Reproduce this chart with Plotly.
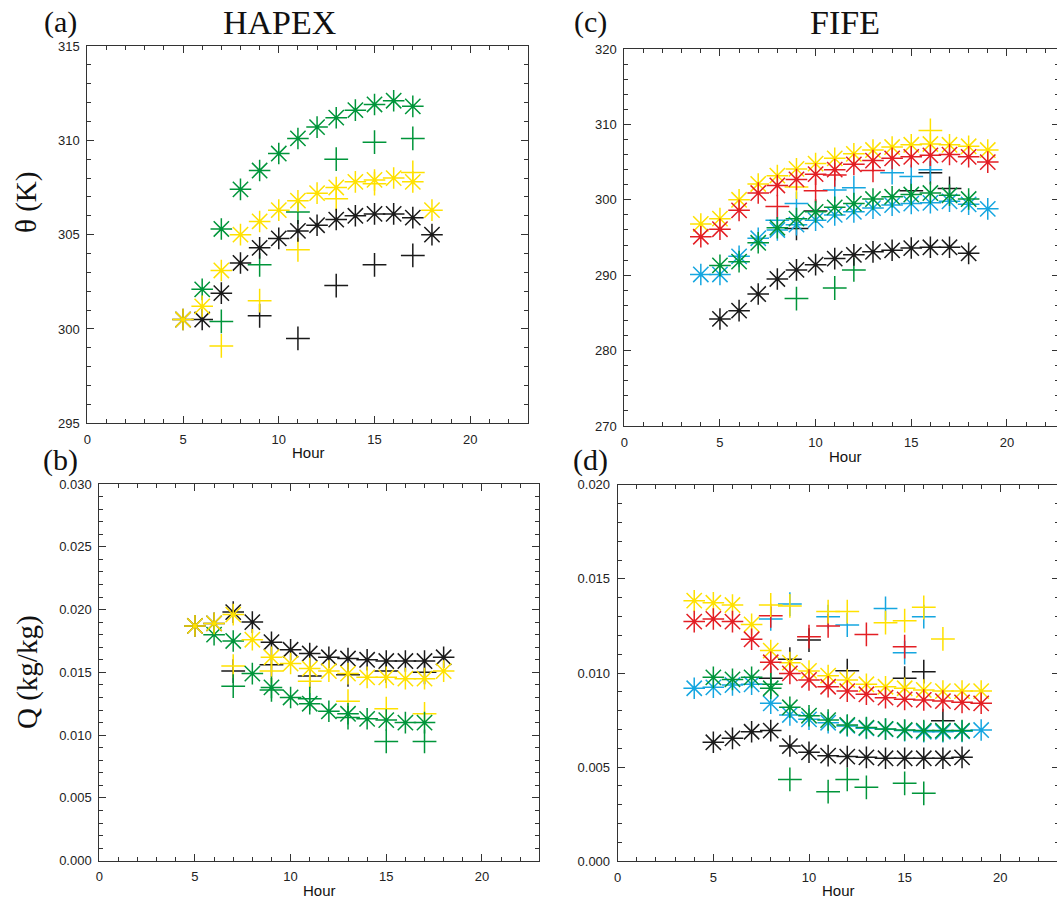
import plotly.graph_objects as go

# ---------------- colours ----------------
BLACK = "#1a1a1a"
GREEN = "#00953a"
YELLOW = "#ffe100"
RED = "#e31e24"
CYAN = "#15a6e0"

# ---------------- (a) HAPEX theta ----------------
a_hours_bk = [5, 6, 7, 8, 9, 10, 11, 12, 13, 14, 15, 16, 17, 18]
a_th_bk = [300.5, 300.5, 301.9, 303.5, 304.3, 304.8, 305.2, 305.5, 305.8, 306.0, 306.1, 306.1, 305.9, 305.0]
a_hours_ye = [5, 6, 7, 8, 9, 10, 11, 12, 13, 14, 15, 16, 17, 18]
a_th_ye = [300.5, 301.2, 303.1, 305.0, 305.7, 306.3, 306.8, 307.2, 307.5, 307.8, 307.9, 308.0, 307.8, 306.3]
a_hours_gr = [6, 7, 8, 9, 10, 11, 12, 13, 14, 15, 16, 17]
a_th_gr = [302.1, 305.3, 307.4, 308.4, 309.3, 310.1, 310.7, 311.2, 311.6, 311.9, 312.1, 311.8]
a_plus_hours = [7, 9, 11, 13, 15, 17]
a_plus_bk_hours = [9, 11, 13, 15, 17]
a_plus_bk = [300.7, 299.5, 302.3, 303.4, 303.9]
a_plus_ye = [299.1, 301.5, 304.2, 306.9, 307.7, 308.3]
a_plus_gr = [300.4, 303.4, 306.2, 309.0, 309.9, 310.1]

# ---------------- (b) HAPEX Q ----------------
b_hours_bk = [5, 6, 7, 8, 9, 10, 11, 12, 13, 14, 15, 16, 17, 18]
b_q_bk = [0.0187, 0.0189, 0.0198, 0.0190, 0.0174, 0.0168, 0.0165, 0.0162, 0.0161, 0.0160, 0.0159, 0.0159, 0.0159, 0.0162]
b_hours_ye = [5, 6, 7, 8, 9, 10, 11, 12, 13, 14, 15, 16, 17, 18]
b_q_ye = [0.0187, 0.0189, 0.0196, 0.0176, 0.0162, 0.0157, 0.0153, 0.0151, 0.0149, 0.0146, 0.0146, 0.0145, 0.0145, 0.0151]
b_hours_gr = [6, 7, 8, 9, 10, 11, 12, 13, 14, 15, 16, 17]
b_q_gr = [0.0180, 0.0175, 0.0149, 0.0138, 0.0130, 0.0125, 0.0119, 0.0117, 0.0113, 0.0112, 0.0110, 0.0110]
b_plus_hours = [7, 9, 11, 13, 15, 17]
b_plus_bk = [0.0151, 0.0156, 0.0147, 0.0148, 0.0151, 0.0150]
b_plus_ye = [0.0155, 0.0151, 0.0143, 0.0127, 0.0121, 0.0117]
b_plus_gr = [0.0139, 0.0136, 0.0129, 0.0114, 0.0095, 0.0095]

# ---------------- (c) FIFE theta ----------------
c_hours_4 = [4, 5, 6, 7, 8, 9, 10, 11, 12, 13, 14, 15, 16, 17, 18, 19]
c_th_ye = [296.8, 297.5, 300.0, 302.1, 303.2, 304.1, 304.8, 305.5, 306.1, 306.6, 307.0, 307.3, 307.4, 307.3, 307.1, 306.6]
c_th_rd = [295.1, 296.1, 298.6, 300.9, 301.9, 302.7, 303.4, 304.0, 304.7, 305.2, 305.5, 305.7, 305.9, 306.0, 305.7, 305.0]
c_th_cy = [290.1, 290.1, 292.5, 294.9, 296.0, 296.7, 297.3, 298.0, 298.4, 298.9, 299.3, 299.5, 299.6, 299.8, 299.4, 298.8]
c_hours_5 = [5, 6, 7, 8, 9, 10, 11, 12, 13, 14, 15, 16, 17, 18]
c_th_gr = [291.3, 291.8, 294.3, 296.3, 297.5, 298.4, 299.0, 299.5, 300.1, 300.4, 300.7, 300.9, 300.6, 300.1]
c_th_bk = [284.2, 285.3, 287.5, 289.5, 290.7, 291.4, 292.2, 292.7, 293.1, 293.3, 293.6, 293.7, 293.7, 292.9]
c_plus_ye_hours = [9, 16]
c_plus_ye = [301.7, 309.2]
c_plus_rd_hours = [8, 10, 11, 13]
c_plus_rd = [299.1, 301.2, 303.3, 303.9]
c_plus_cy_hours = [8, 9, 11, 12, 14, 15, 16]
c_plus_cy = [297.3, 299.5, 301.3, 301.6, 303.6, 303.1, 304.0]
c_plus_bk_hours = [9, 10, 15, 16, 17]
c_plus_bk = [296.2, 298.5, 301.2, 303.6, 301.5]
c_plus_gr_hours = [9, 11, 12]
c_plus_gr = [286.9, 288.3, 290.7]

# ---------------- (d) FIFE Q ----------------
d_hours_4 = [4, 5, 6, 7, 8, 9, 10, 11, 12, 13, 14, 15, 16, 17, 18, 19]
d_q_ye = [0.01384, 0.01373, 0.01361, 0.01258, 0.01119, 0.01055, 0.01011, 0.00986, 0.00963, 0.00940, 0.00927, 0.00919, 0.00910, 0.00904, 0.00904, 0.00904]
d_q_rd = [0.01273, 0.01287, 0.01273, 0.01179, 0.01057, 0.00998, 0.00963, 0.00927, 0.00904, 0.00887, 0.00869, 0.00860, 0.00857, 0.00851, 0.00844, 0.00839]
d_q_cy = [0.00919, 0.00924, 0.00936, 0.00940, 0.00839, 0.00777, 0.00754, 0.00736, 0.00719, 0.00706, 0.00701, 0.00694, 0.00688, 0.00688, 0.00690, 0.00697]
d_hours_5 = [5, 6, 7, 8, 9, 10, 11, 12, 13, 14, 15, 16, 17, 18]
d_q_gr = [0.00977, 0.00966, 0.00977, 0.00919, 0.00818, 0.00773, 0.00750, 0.00724, 0.00710, 0.00703, 0.00697, 0.00694, 0.00694, 0.00694]
d_q_bk = [0.00632, 0.00653, 0.00688, 0.00694, 0.00612, 0.00579, 0.00561, 0.00556, 0.00552, 0.00547, 0.00547, 0.00547, 0.00547, 0.00552]
d_plus_ye_hours = [8, 9, 11, 12, 14, 15, 16, 17]
d_plus_ye = [0.01361, 0.01356, 0.01326, 0.01326, 0.01267, 0.01278, 0.01349, 0.01181]
d_plus_cy_hours = [8, 9, 11, 12, 14, 15, 16]
d_plus_cy = [0.01287, 0.01366, 0.01299, 0.01255, 0.01343, 0.01108, 0.01299]
d_plus_rd_hours = [8, 10, 11, 13, 15]
d_plus_rd = [0.01304, 0.01193, 0.01250, 0.01205, 0.01140]
d_plus_bk_hours = [8, 9, 10, 12, 15, 16, 17]
d_plus_bk = [0.00972, 0.01073, 0.01175, 0.01012, 0.00972, 0.01007, 0.00747]
d_plus_gr_hours = [8, 9, 11, 12, 13, 15, 16]
d_plus_gr = [0.00940, 0.00435, 0.00370, 0.00435, 0.00393, 0.00414, 0.00361]

# ---------------- tick labels ----------------
x_ticks = [0, 5, 10, 15, 20]
a_yticks = [295, 300, 305, 310, 315]
c_yticks = [270, 280, 290, 300, 310, 320]
b_yticks = [0.000, 0.005, 0.010, 0.015, 0.020, 0.025, 0.030]
d_yticks = [0.000, 0.005, 0.010, 0.015, 0.020]

fig = go.Figure()

AST_SIZE = 18
PLUS_SIZE = 17
LW = 1.5


def add(x, y, color, symbol, xa, ya):
    fig.add_trace(go.Scatter(
        x=x, y=y, mode="markers", xaxis=xa, yaxis=ya, showlegend=False,
        hoverinfo="x+y",
        marker=dict(symbol=symbol, size=AST_SIZE if symbol.startswith("asterisk") else PLUS_SIZE,
                    color=color, line=dict(color=color, width=LW)),
    ))


AST = "asterisk-open"
PLUS = "cross-thin-open"

# (a)
add(a_plus_bk_hours, a_plus_bk, BLACK, PLUS, "x", "y")
add(a_plus_hours, a_plus_ye, YELLOW, PLUS, "x", "y")
add(a_plus_hours, a_plus_gr, GREEN, PLUS, "x", "y")
add(a_hours_bk, a_th_bk, BLACK, AST, "x", "y")
add(a_hours_gr, a_th_gr, GREEN, AST, "x", "y")
add(a_hours_ye, a_th_ye, YELLOW, AST, "x", "y")

# (b)
add(b_plus_hours, b_plus_bk, BLACK, PLUS, "x2", "y2")
add(b_plus_hours, b_plus_ye, YELLOW, PLUS, "x2", "y2")
add(b_plus_hours, b_plus_gr, GREEN, PLUS, "x2", "y2")
add(b_hours_bk, b_q_bk, BLACK, AST, "x2", "y2")
add(b_hours_gr, b_q_gr, GREEN, AST, "x2", "y2")
add(b_hours_ye, b_q_ye, YELLOW, AST, "x2", "y2")

# (c)
add(c_plus_bk_hours, c_plus_bk, BLACK, PLUS, "x3", "y3")
add(c_plus_gr_hours, c_plus_gr, GREEN, PLUS, "x3", "y3")
add(c_plus_cy_hours, c_plus_cy, CYAN, PLUS, "x3", "y3")
add(c_plus_rd_hours, c_plus_rd, RED, PLUS, "x3", "y3")
add(c_plus_ye_hours, c_plus_ye, YELLOW, PLUS, "x3", "y3")
add(c_hours_5, c_th_bk, BLACK, AST, "x3", "y3")
add(c_hours_4, c_th_cy, CYAN, AST, "x3", "y3")
add(c_hours_5, c_th_gr, GREEN, AST, "x3", "y3")
add(c_hours_4, c_th_ye, YELLOW, AST, "x3", "y3")
add(c_hours_4, c_th_rd, RED, AST, "x3", "y3")

# (d)
add(d_plus_bk_hours, d_plus_bk, BLACK, PLUS, "x4", "y4")
add(d_plus_gr_hours, d_plus_gr, GREEN, PLUS, "x4", "y4")
add(d_plus_cy_hours, d_plus_cy, CYAN, PLUS, "x4", "y4")
add(d_plus_rd_hours, d_plus_rd, RED, PLUS, "x4", "y4")
add(d_plus_ye_hours, d_plus_ye, YELLOW, PLUS, "x4", "y4")
add(d_hours_5, d_q_bk, BLACK, AST, "x4", "y4")
add(d_hours_4, d_q_cy, CYAN, AST, "x4", "y4")
add(d_hours_5, d_q_gr, GREEN, AST, "x4", "y4")
add(d_hours_4, d_q_ye, YELLOW, AST, "x4", "y4")
add(d_hours_4, d_q_rd, RED, AST, "x4", "y4")

# paper is a little wider than the window so the cropped right-hand
# panels can run past the visible edge, as in the reference
W, H = 1075, 900
TICKFONT = dict(family="Liberation Sans, Arial, sans-serif", size=13, color="#222")
AXCOL = "#333"


def px(v):
    return v / W


def py(v):
    return 1 - v / H


def xax(x0, x1, anchor, xmax):
    return dict(domain=[px(x0), px(x1)], anchor=anchor, range=[0, xmax], automargin=False,
                tickvals=x_ticks, ticks="inside", ticklen=7, tickcolor=AXCOL, tickwidth=1,
                minor=dict(dtick=1, tick0=0, ticks="inside", ticklen=4, tickcolor=AXCOL, tickwidth=1),
                showline=True, linecolor=AXCOL, linewidth=1, mirror="ticks",
                showgrid=False, zeroline=False, tickfont=TICKFONT, ticklabelstandoff=4)


def yax(top, bottom, anchor, rng, vals, fmt, minor_dt):
    return dict(domain=[py(bottom), py(top)], anchor=anchor, range=rng, automargin=False,
                tickvals=vals, tickformat=fmt, ticks="inside", ticklen=7, tickcolor=AXCOL, tickwidth=1,
                minor=dict(dtick=minor_dt, tick0=rng[0], ticks="inside", ticklen=4, tickcolor=AXCOL, tickwidth=1),
                showline=True, linecolor=AXCOL, linewidth=1, mirror="ticks",
                showgrid=False, zeroline=False, tickfont=TICKFONT, ticklabelstandoff=4)


PX_PER_HR = 19.13
c_left, c_right = 624.3, 1058.5
d_left, d_right = 617.7, 1058.5

fig.update_layout(
    width=W, height=H, margin=dict(l=0, r=0, t=0, b=0, pad=0), autosize=False,
    paper_bgcolor="white", plot_bgcolor="white",
    xaxis=xax(87.3, 527.7, "y", 23),
    yaxis=yax(46, 423.3, "x", [295, 315], a_yticks, "d", 1),
    xaxis2=xax(99.3, 539.3, "y2", 23),
    yaxis2=yax(484, 860.7, "x2", [0, 0.030], b_yticks, ".3f", 0.001),
    xaxis3=xax(c_left, c_right, "y3", (c_right - c_left) / PX_PER_HR),
    yaxis3=yax(49, 426, "x3", [270, 320], c_yticks, "d", 2),
    xaxis4=xax(d_left, d_right, "y4", (d_right - d_left) / PX_PER_HR),
    yaxis4=yax(484.7, 861.3, "x4", [0, 0.020], d_yticks, ".3f", 0.001),
)

SERIF = "Liberation Serif, Times New Roman, serif"
SANS = "Liberation Sans, Arial, sans-serif"


def txt(x, y, s, size, family, angle=0):
    fig.add_annotation(x=px(x), y=py(y), xref="paper", yref="paper", text=s, showarrow=False,
                       font=dict(family=family, size=size, color="#111"), textangle=angle,
                       xanchor="center", yanchor="middle")


txt(60, 22, "(a)", 30, SERIF)
txt(279, 22, "HAPEX", 34, SERIF)
txt(590, 22, "(c)", 30, SERIF)
txt(845, 22, "FIFE", 34, SERIF)
txt(60, 460, "(b)", 30, SERIF)
txt(590, 460, "(d)", 30, SERIF)
txt(27, 203, "θ (K)", 29, SERIF, -90)
txt(27, 672, "Q (kg/kg)", 29, SERIF, -90)
txt(308, 453, "Hour", 15, SANS)
txt(845, 456, "Hour", 15, SANS)
txt(319, 890, "Hour", 15, SANS)
txt(838, 890, "Hour", 15, SANS)

# remove the default page margin so the figure sits at the window's corner
PAGE_JS = ("document.body.style.margin='0';"
           "document.body.style.overflow='hidden';"
           "document.documentElement.style.overflow='hidden';")

fig.write_html("out.html", post_script=PAGE_JS, config={"displayModeBar": False})
